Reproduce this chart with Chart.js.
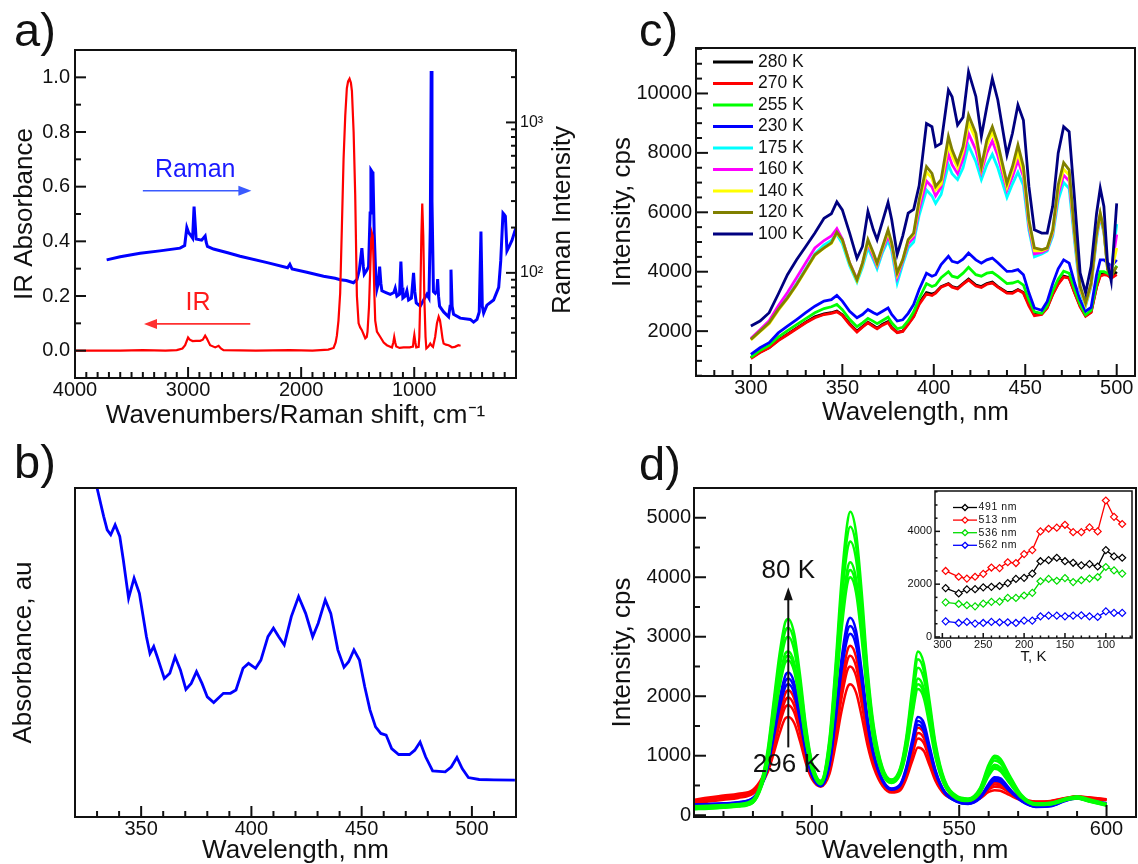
<!DOCTYPE html>
<html>
<head>
<meta charset="utf-8">
<title>Spectra</title>
<script src="https://cdn.jsdelivr.net/npm/chart.js@4.4.1/dist/chart.umd.min.js"></script>
<style>
  html, body { margin: 0; padding: 0; background: #fff; }
  #fig { position: relative; width: 1138px; height: 864px; overflow: hidden; }
  #fig canvas { position: absolute; left: 0; top: 0; }
</style>
</head>
<body>
<div id="fig">
  <canvas id="chartA" width="1138" height="864"></canvas>
  <canvas id="chartB" width="1138" height="864"></canvas>
  <canvas id="chartC" width="1138" height="864"></canvas>
  <canvas id="chartD" width="1138" height="864"></canvas>
  <canvas id="chartInset" width="1138" height="864"></canvas>
</div>
<script>
const FONT = 'Arial, "Liberation Sans", Helvetica, sans-serif';
const INK = '#111';

// a) IR absorbance (left axis) and Raman spectrum (right, log axis)
const irShift = [4000,3800,3600,3400,3200,3100,3050,3026,3000,2985,
  2960,2930,2893,2870,2849,2835,2805,2760,2730,2710,
  2687,2400,2100,1900,1760,1713,1695,1684,1670,1655,
  1640,1625,1610,1596,1585,1572,1560,1551,1536,1522,
  1507,1492,1478,1463,1448,1433,1420,1413,1400,1389,
  1380,1374,1367,1360,1352,1345,1330,1300,1270,1242,
  1197,1185,1177,1168,1159,1130,1094,1040,1011,1005,
  999,990,982,961,955,946,937,929,920,911,
  900,893,875,858,845,834,815,799,784,772,
  763,750,740,720,696,680,666,640,610,590];
const irAbs = [0.0,0.0,0.0,0.002,0.0,0.002,0.008,0.02,0.048,0.04,
  0.035,0.036,0.036,0.04,0.055,0.045,0.02,0.012,0.018,0.008,
  0.002,0.0,0.002,0.0,0.004,0.01,0.03,0.055,0.11,0.21,
  0.45,0.7,0.86,0.96,0.985,0.995,0.98,0.95,0.8,0.57,
  0.2,0.1,0.085,0.075,0.06,0.045,0.05,0.07,0.16,0.3,
  0.41,0.43,0.42,0.33,0.2,0.11,0.07,0.05,0.03,0.02,
  0.012,0.03,0.05,0.03,0.015,0.01,0.012,0.012,0.015,0.04,
  0.057,0.03,0.012,0.014,0.05,0.2,0.42,0.538,0.42,0.2,
  0.05,0.008,0.015,0.026,0.018,0.014,0.05,0.1,0.124,0.11,
  0.085,0.045,0.026,0.022,0.02,0.016,0.012,0.014,0.02,0.018];
const ramanShift = [3720,3600,3424,3250,3071,3030,3011,2995,2982,2960,
  2947,2935,2929,2880,2849,2840,2829,2775,2650,2540,
  2300,2120,2100,2080,1950,1802,1700,1655,1600,1537,
  1507,1485,1463,1450,1442,1420,1404,1390,1383,1372,
  1365,1354,1340,1330,1318,1306,1295,1286,1250,1212,
  1180,1168,1153,1130,1118,1108,1100,1080,1065,1050,
  1025,1006,995,982,947,917,888,870,858,850,
  843,830,814,800,793,785,776,740,696,683,
  675,665,652,593,504,475,445,425,410,398,
  386,357,298,253,235,215,205,194,180,160,
  135,110,91];
const ramanInt = [122,128,135,140,146,152,200,185,180,170,
  276,200,168,165,176,160,150,144,136,129,
  117,108,114,106,101,95,92,90,89,86,
  90,105,146,110,98,104,110,250,484,470,
  460,184,95,78,85,110,85,76,74,72,
  74,79,70,72,119,80,68,70,76,66,
  68,100,75,63,60,66,72,68,200,2200,
  300,75,73,76,91,70,60,55,51,60,
  105,60,53,50,49,47,49,55,188,60,
  54,61,66,80,120,250,245,238,140,150,
  165,190,205];
const aShiftTicks = [4000, 3000, 2000, 1000];
const aAbsTicks = [0, 0.2, 0.4, 0.6, 0.8, 1.0];
const aRamanTicks = [100, 1000];

// b) absorption spectrum
const bWave = [329,330,333,334.6,336.2,338.2,340.3,341.9,344.3,346.8,
  349.2,352.4,354,355.7,357.3,360.5,363,365.4,367.8,370.3,
  372.7,375.1,377.6,380,382.9,387.3,390.5,393,396.2,398.7,
  401.9,404.3,407.5,410,412.4,414.9,418.1,421.4,424.6,427.8,
  430.3,433.5,436,439.2,442,444.1,446.5,449,451.4,453.8,
  456.3,458.7,461.1,463.6,466.8,471.7,474.1,476.5,479,482.2,
  487.9,490.6,493.2,495.6,498.4,503.3,510,519.5];
const bAbs = [1.03,1.0,0.914,0.873,0.858,0.888,0.853,0.782,0.665,0.726,
  0.68,0.548,0.497,0.518,0.487,0.421,0.437,0.487,0.447,0.388,
  0.406,0.442,0.406,0.365,0.348,0.376,0.376,0.386,0.452,0.467,
  0.452,0.477,0.548,0.574,0.548,0.523,0.609,0.67,0.619,0.548,
  0.589,0.66,0.619,0.508,0.455,0.472,0.508,0.477,0.396,0.325,
  0.274,0.254,0.249,0.208,0.19,0.19,0.203,0.228,0.183,0.14,
  0.137,0.152,0.181,0.147,0.12,0.114,0.113,0.112];
const bWaveTicks = [350, 400, 450, 500];

// c) emission spectra at several temperatures
const cWave = [300,305,310,315,320,325,330,335,340,344,
  347,350,354,358,361,364,367,369,372,375,
  377,380,383,386,389,392,396,399,401,404,
  408,410,413,416,419,423,426,429,432,435,
  440,443,446,449,452,455,459,462,465,468,
  471,474,477,480,483,486,489,491,493,495,
  497,500];
const cTemps = ['280 K', '270 K', '255 K', '230 K', '175 K', '160 K', '140 K', '120 K', '100 K'];
const c280 = [1100,1300,1450,1700,1900,2100,2300,2480,2580,2620,
  2680,2550,2250,2000,2150,2300,2180,2100,2230,2320,
  2120,1960,2000,2250,2500,2950,3300,3250,3300,3500,
  3600,3500,3450,3600,3750,3550,3500,3600,3650,3500,
  3300,3300,3400,3300,2900,2560,2580,2800,3250,3600,
  3850,3800,3300,2850,2520,2650,3500,3900,3950,3900,
  3800,4000];
const c270 = [1080,1280,1440,1680,1880,2080,2280,2450,2560,2600,
  2650,2530,2220,1970,2130,2280,2150,2080,2200,2290,
  2100,1950,1990,2230,2480,2900,3250,3200,3280,3480,
  3580,3480,3420,3580,3720,3520,3470,3580,3620,3480,
  3280,3270,3380,3280,2850,2520,2560,2780,3230,3580,
  3820,3780,3280,2820,2500,2630,3480,3850,3900,3880,
  3780,3900];
const c255 = [1120,1350,1520,1800,2020,2220,2420,2620,2760,2820,
  2900,2720,2400,2150,2280,2430,2330,2250,2360,2470,
  2280,2080,2130,2350,2650,3100,3600,3500,3550,3800,
  4000,3850,3800,3950,4150,3900,3850,3950,3980,3850,
  3600,3620,3680,3550,3050,2650,2600,2850,3350,3750,
  4020,3950,3400,2900,2550,2700,3600,4000,4000,3950,
  3850,4200];
const c230 = [1220,1440,1610,1940,2170,2390,2620,2840,3010,3060,
  3200,3010,2670,2450,2560,2730,2620,2560,2670,2780,
  2560,2340,2380,2600,2900,3400,3950,3850,3900,4240,
  4520,4350,4300,4420,4630,4400,4290,4400,4460,4300,
  4010,4020,4070,3900,3290,2780,2700,3000,3600,4100,
  4400,4290,3620,3060,2670,2800,3900,4400,4400,4300,
  4180,4400];
const c175 = [1750,2000,2300,2750,3150,3600,4100,4600,4900,5050,
  5250,4950,4200,3650,4150,4800,4400,4100,4650,5050,
  4700,3620,4250,4800,5000,5900,6750,6550,6300,6600,
  7600,7300,7100,7500,8250,7700,7100,7600,7950,7500,
  6500,6950,7350,6900,5400,4500,4600,4700,5200,6400,
  7000,6800,5000,3300,2850,3500,5100,5850,5300,4100,
  4000,5600];
const c160 = [1750,2050,2350,2850,3300,3800,4300,4800,5050,5200,
  5450,5100,4300,3750,4250,4950,4500,4200,4750,5200,
  4850,3800,4350,4950,5150,6100,7050,6850,6550,6850,
  7950,7600,7300,7800,8650,8100,7350,8000,8400,7900,
  6750,7200,7750,7200,5550,4600,4650,4750,5300,6600,
  7250,7050,5150,3400,2900,3550,5200,5900,5350,4150,
  4050,5250];
const c140 = [1700,1980,2250,2700,3100,3550,4050,4550,4800,4950,
  5300,5050,4280,3700,4250,5000,4580,4250,4800,5350,
  4900,3900,4400,5050,5250,6300,7350,7150,6750,6950,
  8300,7900,7500,8050,9000,8450,7450,8250,8700,8150,
  6850,7400,8000,7350,5650,4700,4700,4780,5350,6750,
  7450,7250,5200,3450,2900,3580,5250,5950,5380,4100,
  3950,4800];
const c120 = [1720,2000,2280,2730,3120,3570,4070,4570,4800,4970,
  5330,5080,4290,3730,4290,5080,4630,4290,4850,5410,
  4970,3960,4400,5080,5300,6420,7540,7310,6870,7100,
  8550,8100,7650,8210,9270,8660,7540,8430,8880,8320,
  6980,7540,8270,7540,5750,4800,4740,4800,5410,6920,
  7670,7430,5300,3510,2950,3620,5300,5970,5410,4070,
  3850,4180];
const c100 = [2170,2340,2620,3250,3900,4400,4850,5300,5800,5950,
  6350,6080,5300,4450,4850,6030,5400,5080,5700,6330,
  5750,4580,5200,5970,6100,6900,8990,8880,8210,8320,
  10110,9890,8940,9200,10730,9900,8550,9550,10500,9780,
  7930,8660,9610,9100,6870,5410,5300,5300,6200,7990,
  8880,8710,6420,3960,3290,4180,5970,6810,6200,4290,
  3680,6300];
const cWaveTicks = [300, 350, 400, 450, 500];
const cIntTicks = [2000, 4000, 6000, 8000, 10000];

// d) emission bands, 296 K (red) to 80 K (green)
const dWave = [460,465,470,475,480,483,485,487,489,491,
  492,494,496,498,500,503,506,508,510,512,
  513,515,517,519,521,524,527,530,532,534,
  536,538,540,542,545,549,553,557,560,562,
  564,567,571,576,581,586,590,594,600];
const dGreen1 = [150,160,170,190,260,600,1100,1900,2700,3250,
  3300,3050,2350,1500,900,580,1300,2500,3900,4900,
  5100,4750,3700,2400,1500,800,600,800,1300,2100,
  2750,2550,1900,1200,600,330,280,450,850,1000,
  950,680,350,200,210,280,320,270,190];
const dGreen2 = [140,150,160,180,250,580,1050,1830,2580,3100,
  3150,2920,2250,1440,880,570,1250,2400,3730,4680,
  4850,4530,3530,2300,1450,780,590,780,1250,2000,
  2620,2430,1810,1150,580,320,270,435,815,960,
  910,655,340,195,205,275,310,260,185];
const dGreen3 = [130,140,150,170,240,560,1000,1750,2450,2950,
  3000,2780,2150,1380,850,560,1200,2300,3550,4450,
  4600,4300,3350,2200,1400,760,580,760,1200,1900,
  2480,2300,1720,1100,560,310,260,420,780,920,
  870,630,330,190,200,270,300,250,180];
const dGreen4 = [110,120,135,155,220,520,930,1620,2270,2720,
  2750,2560,1980,1280,800,540,1120,2130,3280,4120,
  4250,3970,3100,2050,1300,720,560,720,1120,1770,
  2300,2130,1600,1030,530,290,250,390,720,850,
  800,580,310,180,190,260,290,240,170];
const dGreen5 = [105,115,130,150,215,505,905,1575,2200,2640,
  2680,2490,1920,1250,785,530,1085,2065,3180,4000,
  4120,3850,3010,1990,1265,705,550,705,1085,1710,
  2200,2050,1540,995,515,285,245,380,690,810,
  770,560,305,175,185,255,285,235,165];
const dGreen6 = [100,110,125,145,210,490,880,1530,2140,2570,
  2600,2420,1870,1220,770,520,1050,2000,3080,3880,
  4000,3740,2920,1930,1230,690,540,690,1050,1650,
  2120,1970,1480,960,500,280,240,370,660,780,
  740,540,300,170,180,250,280,230,160];
const dBlue1 = [180,190,200,220,290,520,850,1400,1950,2350,
  2400,2230,1720,1120,700,500,900,1700,2600,3220,
  3320,3100,2400,1600,1050,600,450,520,800,1250,
  1650,1550,1150,750,400,240,200,300,530,640,
  620,450,250,150,160,250,290,250,200];
const dBlue2 = [175,185,195,215,285,510,825,1350,1875,2255,
  2300,2140,1655,1085,685,495,875,1640,2500,3090,
  3180,2975,2310,1545,1020,585,440,510,775,1200,
  1585,1485,1105,725,390,235,195,290,505,610,
  590,430,245,145,155,245,285,245,195];
const dBlue3 = [170,180,190,210,280,500,800,1300,1800,2160,
  2200,2050,1590,1050,670,490,850,1580,2400,2960,
  3050,2850,2220,1490,990,570,430,500,750,1150,
  1520,1420,1060,700,380,230,190,280,480,580,
  560,410,240,140,150,240,280,240,190];
const dRed1 = [260,300,330,360,430,620,850,1250,1700,2050,
  2100,1960,1550,1050,700,520,820,1450,2200,2760,
  2850,2660,2080,1420,950,560,420,480,720,1120,
  1470,1380,1040,690,400,280,260,320,480,550,
  540,420,290,230,240,290,320,300,270];
const dRed2 = [245,280,310,340,410,595,815,1190,1610,1935,
  1980,1845,1465,1000,675,510,790,1375,2075,2595,
  2680,2500,1965,1350,910,540,410,465,690,1060,
  1380,1295,980,655,385,270,250,310,455,515,
  505,400,280,225,235,285,315,295,265];
const dRed3 = [230,260,290,320,390,570,780,1130,1520,1820,
  1850,1730,1380,950,650,500,760,1300,1950,2430,
  2500,2340,1850,1280,870,520,400,450,660,1000,
  1290,1210,920,620,370,260,240,300,430,480,
  470,380,270,220,230,280,310,290,260];
const dRed4 = [200,230,260,290,360,530,720,1030,1370,1630,
  1650,1550,1240,870,610,480,700,1170,1730,2140,
  2200,2060,1640,1150,800,490,380,420,610,900,
  1140,1080,830,570,350,250,230,280,390,420,
  410,340,250,210,220,270,300,280,250];
const dWaveTicks = [500, 550, 600];
const dIntTicks = [0, 1000, 2000, 3000, 4000, 5000];

// d) inset: band intensity versus temperature
const insetTemp = [296,280,270,260,250,240,230,220,210,200,190,180,170,160,150,140,130,120,110,100,90,80];
const insetLabels = ['491 nm', '513 nm', '536 nm', '562 nm'];
const i491 = [1850,1650,1800,1810,1880,1900,1930,2040,2200,2240,2400,2870,2910,3000,2870,2810,2710,2760,2670,3290,3050,3000];
const i513 = [2500,2280,2210,2280,2390,2630,2610,2830,2800,3140,3290,4000,4100,4140,4250,3970,3970,4150,4000,5170,4550,4280];
const i536 = [1310,1250,1200,1160,1260,1330,1340,1480,1480,1570,1670,2110,2200,2130,2230,2080,2150,2210,2270,2650,2520,2400];
const i562 = [590,530,570,505,530,570,555,555,530,620,620,780,810,810,780,810,820,780,760,970,910,910];
const insetTempTicks = [300, 250, 200, 150, 100];
const insetIntTicks = [0, 2000, 4000];

Chart.defaults.font.family = FONT;
Chart.defaults.color = INK;
Chart.defaults.animation = false;

const pts = (xs, ys) => xs.map((x, i) => ({ x, y: ys[i] }));

function trace(xs, ys, color, width, more) {
  return Object.assign({
    data: pts(xs, ys), borderColor: color, backgroundColor: color,
    borderWidth: width, pointRadius: 0, tension: 0, fill: false, clip: 0
  }, more || {});
}

// axis with fixed box size so every plot frame lands where it should
function axis(o) {
  const horiz = o.pos === 'bottom';
  return {
    type: o.type || 'linear', position: o.pos,
    min: o.min, max: o.max, reverse: !!o.reverse, bounds: 'data',
    grid: { display: false, drawTicks: false }, border: { display: false },
    afterBuildTicks: s => { s.ticks = (o.ticks || []).map(v => ({ value: v })); },
    afterFit: s => {
      if (horiz) s.height = o.box; else s.width = o.box;
      s.paddingLeft = s.paddingRight = s.paddingTop = s.paddingBottom = 0;
    },
    ticks: {
      display: !!o.ticks, autoSkip: false, maxRotation: 0, minRotation: 0,
      padding: o.pad || 0, color: INK,
      font: { size: o.tickSize || 20, lineHeight: 1 },
      callback: o.fmt || (v => String(v))
    },
    title: {
      display: !!o.title, text: o.title || '', padding: 0, color: INK,
      font: { size: o.titleSize || 26, lineHeight: 1 }
    }
  };
}

function tickList(s, m) {
  if (m.list) return m.list;
  const out = [];
  const lo = Math.min(s.min, s.max), hi = Math.max(s.min, s.max);
  for (let k = Math.ceil(lo / m.minor - 1e-9); k * m.minor <= hi + 1e-9; k++) {
    const v = +(k * m.minor).toFixed(6);
    const r = v / m.major;
    out.push([v, Math.abs(r - Math.round(r)) < 1e-6]);
  }
  return out;
}

// box around the plot with inward tick marks
function frame(marks, opt) {
  opt = opt || {};
  return {
    id: 'frame',
    beforeDatasetsDraw(chart) {
      if (!opt.fill) return;
      const a = chart.chartArea, ctx = chart.ctx;
      ctx.save();
      ctx.fillStyle = opt.fill;
      ctx.fillRect(a.left, a.top, a.right - a.left, a.bottom - a.top);
      ctx.restore();
    },
    afterDatasetsDraw(chart) {
      const a = chart.chartArea, ctx = chart.ctx;
      ctx.save();
      ctx.strokeStyle = INK;
      ctx.lineWidth = opt.width || 2;
      marks.forEach(m => {
        const s = chart.scales[m.axis];
        tickList(s, m).forEach(([v, major]) => {
          const p = s.getPixelForValue(v);
          const len = major ? m.long : m.short;
          ctx.beginPath();
          if (m.side === 'bottom') { ctx.moveTo(p, a.bottom); ctx.lineTo(p, a.bottom - len); }
          else if (m.side === 'left') { ctx.moveTo(a.left, p); ctx.lineTo(a.left + len, p); }
          else { ctx.moveTo(a.right, p); ctx.lineTo(a.right - len, p); }
          ctx.stroke();
        });
      });
      ctx.strokeRect(a.left, a.top, a.right - a.left, a.bottom - a.top);
      ctx.restore();
    }
  };
}

// free text and arrows, in data units unless px is set
function notes(items) {
  return {
    id: 'notes',
    afterDraw(chart) {
      const ctx = chart.ctx;
      items.forEach(n => {
        const xs = chart.scales[n.xAxis || 'x'], ys = chart.scales[n.yAxis || 'y'];
        const X = v => n.px ? v : xs.getPixelForValue(v);
        const Y = v => n.px ? v : ys.getPixelForValue(v);
        ctx.save();
        if (n.arrow) {
          const [x1, y1, x2, y2] = n.arrow;
          const ax = X(x1), ay = Y(y1), bx = X(x2), by = Y(y2);
          const ang = Math.atan2(by - ay, bx - ax);
          const [hl, hw] = n.head;
          ctx.strokeStyle = n.color; ctx.fillStyle = n.color; ctx.lineWidth = n.width;
          ctx.beginPath();
          ctx.moveTo(ax, ay);
          ctx.lineTo(bx - Math.cos(ang) * hl * 0.8, by - Math.sin(ang) * hl * 0.8);
          ctx.stroke();
          ctx.translate(bx, by);
          ctx.rotate(ang);
          ctx.beginPath();
          ctx.moveTo(0, 0); ctx.lineTo(-hl, -hw); ctx.lineTo(-hl, hw); ctx.closePath();
          ctx.fill();
        } else {
          ctx.font = n.font;
          ctx.fillStyle = n.color || INK;
          ctx.textAlign = n.align || 'center';
          ctx.textBaseline = n.base || 'middle';
          ctx.translate(X(n.at[0]), Y(n.at[1]));
          if (n.rot) ctx.rotate(n.rot);
          ctx.fillText(n.text, 0, 0);
        }
        ctx.restore();
      });
    }
  };
}

// line legend listing the datasets top to bottom
function key(k) {
  return {
    id: 'key',
    afterDatasetsDraw(chart) {
      const ctx = chart.ctx;
      ctx.save();
      ctx.font = k.font;
      ctx.textAlign = 'left';
      ctx.textBaseline = 'middle';
      if (k.spacing) ctx.letterSpacing = k.spacing;
      chart.data.datasets.forEach((ds, i) => {
        const y = k.y + i * k.dy;
        ctx.strokeStyle = ds.borderColor;
        ctx.lineWidth = k.lw;
        ctx.beginPath(); ctx.moveTo(k.x, y); ctx.lineTo(k.x + k.len, y); ctx.stroke();
        if (k.marker) {
          const cx = k.x + k.len / 2, r = k.marker;
          ctx.beginPath();
          ctx.moveTo(cx, y - r); ctx.lineTo(cx + r, y); ctx.lineTo(cx, y + r); ctx.lineTo(cx - r, y);
          ctx.closePath();
          ctx.fillStyle = '#fff'; ctx.fill(); ctx.stroke();
        }
        ctx.fillStyle = INK;
        ctx.fillText(ds.label, k.x + k.len + k.gap, y);
      });
      ctx.restore();
    }
  };
}

function build(id, datasets, scales, pad, plugins) {
  return new Chart(document.getElementById(id), {
    type: 'line',
    data: { datasets },
    options: {
      responsive: false, devicePixelRatio: 1, animation: false, events: [],
      layout: { padding: pad, autoPadding: false },
      scales,
      plugins: { legend: { display: false }, tooltip: { enabled: false } }
    },
    plugins
  });
}

const letter = (t, x, y) => ({ text: t, at: [x, y], px: true, font: '47px ' + FONT, align: 'left', base: 'alphabetic' });

// ---- a ----
const logMarks = [];
[10, 100, 1000].forEach(d => {
  for (let k = 1; k <= 9; k++) {
    const v = k * d;
    if (v >= 20 && v <= 3030) logMarks.push([v, k === 1]);
  }
});

build('chartA', [
  trace(irShift, irAbs, '#ff0000', 2.2, { yAxisID: 'y' }),
  trace(ramanShift, ramanInt, '#0000ff', 3, { yAxisID: 'y2' })
], {
  x: axis({ pos: 'bottom', min: 100, max: 4000, reverse: true, ticks: aShiftTicks, box: 51, pad: 2,
            title: 'Wavenumbers/Raman shift, cm⁻¹' }),
  y: axis({ pos: 'left', min: -0.1, max: 1.1, ticks: aAbsTicks, box: 63, pad: 5,
            fmt: v => v.toFixed(1), title: 'IR Absorbance' }),
  y2: axis({ pos: 'right', type: 'logarithmic', min: 20, max: 3030, ticks: aRamanTicks, box: 30, pad: 4,
             tickSize: 16, fmt: v => (v === 100 ? '10²' : '10³') })
}, { left: 12, top: 50, right: 592, bottom: 435 }, [
  frame([
    { axis: 'x', side: 'bottom', minor: 100, major: 1000, short: 6, long: 11 },
    { axis: 'y', side: 'left', minor: 0.1, major: 0.2, short: 6, long: 11 },
    { axis: 'y2', side: 'right', list: logMarks, short: 5, long: 10 }
  ]),
  notes([
    letter('a)', 14, 46),
    { text: 'Raman Intensity', at: [563, 220], px: true, font: '26px ' + FONT, rot: -Math.PI / 2 },
    { text: 'Raman', at: [2937, 0.66], font: '25px ' + FONT, color: '#1a1aff' },
    { arrow: [3400, 0.585, 2440, 0.585], color: '#3a5aff', width: 1.6, head: [13, 5] },
    { text: 'IR', at: [2912, 0.174], font: '25px ' + FONT, color: '#ff1a1a' },
    { arrow: [2450, 0.098, 3390, 0.098], color: '#ff3030', width: 1.6, head: [13, 5] }
  ])
]);

// ---- b ----
build('chartB', [trace(bWave, bAbs, '#0000ff', 2.8)], {
  x: axis({ pos: 'bottom', min: 320, max: 520, ticks: bWaveTicks, box: 47, pad: 2, title: 'Wavelength, nm' }),
  y: axis({ pos: 'left', min: 0, max: 1, box: 64, title: 'Absorbance, au' })
}, { left: 11, top: 488, right: 622, bottom: 0 }, [
  frame([{ axis: 'x', side: 'bottom', minor: 10, major: 50, short: 6, long: 11 }]),
  notes([letter('b)', 14, 478)])
]);

// ---- c ----
const cSeries = [c280, c270, c255, c230, c175, c160, c140, c120, c100];
const cColors = ['#000000', '#ff0000', '#00ff00', '#0000ff', '#00ffff', '#ff00ff', '#ffff00', '#808000', '#000080'];
build('chartC', cSeries.map((ys, i) => trace(cWave, ys, cColors[i], 2.8, { label: cTemps[i], order: cSeries.length - i })), {
  x: axis({ pos: 'bottom', min: 270, max: 510, ticks: cWaveTicks, box: 50, pad: 2, title: 'Wavelength, nm' }),
  y: axis({ pos: 'left', min: 490, max: 11530, ticks: cIntTicks, box: 86, pad: 4, title: 'Intensity, cps' })
}, { left: 610, top: 48, right: 3, bottom: 438 }, [
  frame([
    { axis: 'x', side: 'bottom', minor: 10, major: 50, short: 6, long: 12 },
    { axis: 'y', side: 'left', minor: 500, major: 2000, short: 6, long: 12 }
  ]),
  key({ x: 713, y: 62, dy: 21.5, len: 40, gap: 5, font: '17.5px ' + FONT, lw: 3 }),
  notes([letter('c)', 639, 46)])
]);

// ---- d ----
const smooth = { cubicInterpolationMode: 'monotone' };
const dGreens = [dGreen1, dGreen2, dGreen3, dGreen4, dGreen5, dGreen6];
const dBlues = [dBlue1, dBlue2, dBlue3];
const dReds = [dRed1, dRed2, dRed3, dRed4];
build('chartD', [
  ...dGreens.map(ys => trace(dWave, ys, '#00ff00', 2.5, smooth)),
  ...dBlues.map(ys => trace(dWave, ys, '#0000ff', 2.5, smooth)),
  ...dReds.map(ys => trace(dWave, ys, '#ff0000', 2.5, smooth))
], {
  x: axis({ pos: 'bottom', min: 460, max: 610, ticks: dWaveTicks, box: 47, pad: 2, title: 'Wavelength, nm' }),
  y: axis({ pos: 'left', min: -30, max: 5500, ticks: dIntTicks, box: 84, pad: 3, title: 'Intensity, cps' })
}, { left: 610, top: 488, right: 2, bottom: 0 }, [
  frame([
    { axis: 'x', side: 'bottom', minor: 10, major: 50, short: 6, long: 12 },
    { axis: 'y', side: 'left', minor: 500, major: 1000, short: 6, long: 12 }
  ]),
  notes([
    letter('d)', 639, 480),
    { arrow: [492, 1140, 492, 3830], color: INK, width: 2, head: [13, 4.5] },
    { text: '80 K', at: [492, 4100], font: '26px ' + FONT },
    { text: '296 K', at: [491.5, 840], font: '26px ' + FONT }
  ])
]);

// ---- inset ----
const dot = c => ({ pointRadius: 3.5, pointStyle: 'rectRot', pointBorderColor: c, pointBackgroundColor: '#fff', pointBorderWidth: 1.2 });
const insetSeries = [i491, i513, i536, i562];
const insetColors = ['#000000', '#ff0000', '#00dd00', '#0000ff'];
build('chartInset', insetSeries.map((ys, i) =>
  trace(insetTemp, ys, insetColors[i], 1.3, Object.assign({ label: insetLabels[i] }, dot(insetColors[i])))), {
  x: axis({ pos: 'bottom', min: 68, max: 309, reverse: true, ticks: insetTempTicks, box: 26.5, pad: 1,
            tickSize: 11, title: 'T, K', titleSize: 15 }),
  y: axis({ pos: 'left', min: -40, max: 5530, ticks: insetIntTicks, box: 40, pad: 3, tickSize: 11 })
}, { left: 895, top: 491, right: 6, bottom: 199.5 }, [
  frame([
    { axis: 'x', side: 'bottom', minor: 10, major: 50, short: 2.5, long: 5 },
    { axis: 'y', side: 'left', minor: 500, major: 2000, short: 2.5, long: 5 }
  ], { width: 1.5, fill: '#fff' }),
  key({ x: 953, y: 507.5, dy: 12.6, len: 24, gap: 1.5, font: '10.5px ' + FONT, lw: 1.3, marker: 3, spacing: '0.6px' })
]);
</script>
</body>
</html>
